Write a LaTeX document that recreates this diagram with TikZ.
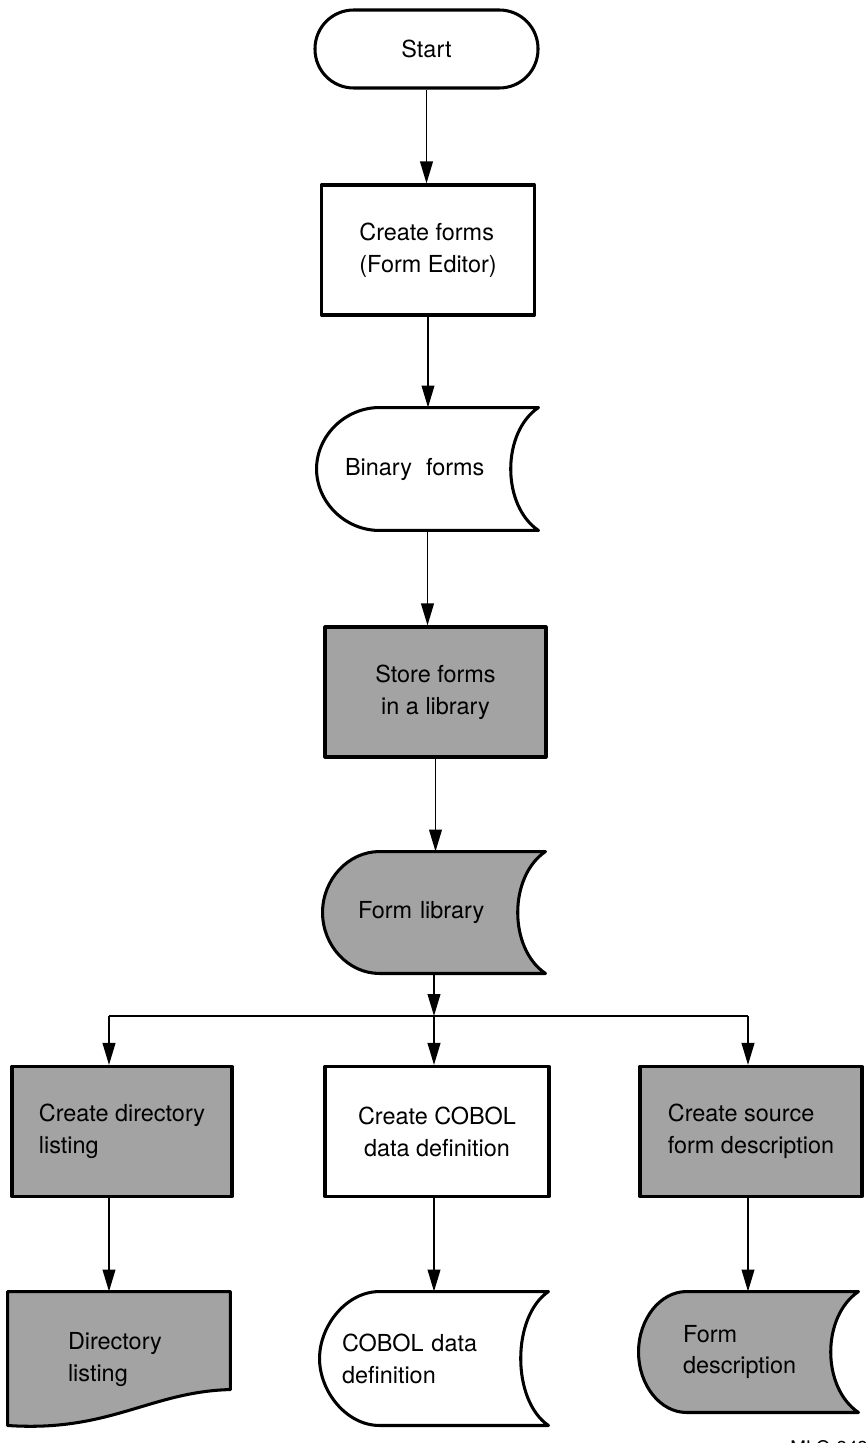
\documentclass[tikz,border=0pt]{standalone}
\usepackage{fontspec}
\setmainfont{TeX Gyre Heros}
\usetikzlibrary{arrows.meta,positioning,calc}
\pgfdeclarelayer{bg}
\pgfsetlayers{bg,main}
\definecolor{screen}{gray}{0.64}
\newcommand{\pxu}{0.015cm}
\tikzstyle{outl} = [line width=1.3pt,line join=round]
\tikzstyle{flow} = [line width=0.8pt,-{Triangle[length=0.33cm,width=0.19cm]}]
\tikzstyle{proc} = [draw,outl,inner sep=0pt,minimum height=130*\pxu]
\tikzstyle{shaded} = [fill=screen]
\tikzstyle{media} = [inner ysep=0pt,align=left]

% stored data outline round a node: name, fill, width of the round end
\newcommand{\storage}[3]{%
  \draw[outl,fill=#2] ($(#1.north west)+(#3,0)$) -- (#1.north east)
    .. controls ($(#1.north east)+(-37,25)$) and ($(#1.south east)+(-37,-25)$) .. (#1.south east)
    -- ($(#1.south west)+(#3,0)$)
    .. controls ($(#1.south west)+(0.45*#3,0)$) and ($(#1.west)+(0,33)$) .. (#1.west)
    .. controls ($(#1.west)+(0,-33)$) and ($(#1.north west)+(0.45*#3,0)$) .. cycle;}
% printed document outline round a node
\newcommand{\docsheet}[2]{%
  \draw[outl,fill=#2] (#1.north west) -- (#1.north east) -- ($(#1.north east)+(0,98)$)
    .. controls ($(#1.north east)+(-80,100)$) and ($(#1.south west)+(102,5)$)
    .. ($(#1.south west)+(0,-2)$) -- cycle;}

\begin{document}
\begin{tikzpicture}[x=\pxu,y=-\pxu,font=\fontsize{10}{13.6}\selectfont]
\useasboundingbox (0,0) rectangle (866,1443);

% main column
\node[draw,outl,rounded corners=0.58cm,minimum width=223*\pxu,minimum height=78*\pxu] (start) at (426.5,49) {Start};
\node[proc,align=left,minimum width=213*\pxu] (cform) at (428,250) {Create forms\\(Form Editor)};
\node[media,text width=165*\pxu,inner xsep=28*\pxu,minimum height=122*\pxu] (binf) at (427.5,469) {Binary\hspace{0.6em}forms};
\node[proc,shaded,align=center,minimum width=221*\pxu] (store) at (435.5,692) {Store forms\\in a library};
\node[media,text width=152*\pxu,inner xsep=35*\pxu,minimum height=121*\pxu] (flib) at (434,912.5) {Form library};

% three branches
\coordinate (jl) at (109,1016);
\coordinate (jm) at (434,1016);
\coordinate (jr) at (748,1016);
\node[proc,shaded,align=left,minimum width=220*\pxu] (cdir) at (122,1131.5) {Create directory\\listing};
\node[proc,align=center,minimum width=224*\pxu] (ccob) at (437,1131.5) {Create COBOL\\data definition};
\node[proc,shaded,align=left,minimum width=222*\pxu] (csrc) at (751,1131.5) {Create source\\form description};

% outputs
\node[media,text width=102*\pxu,inner xsep=60*\pxu,minimum height=135*\pxu] (dlist) at (119,1359.5) {Directory\\listing};
\node[media,text width=184*\pxu,inner xsep=22*\pxu,minimum height=133*\pxu] (cobd) at (434,1358.5) {COBOL data\\definition};
\node[media,text width=131*\pxu,inner xsep=44*\pxu,minimum height=120*\pxu] (fdesc) at (748.5,1352) {Form\\description};
\node[anchor=north west,inner sep=0pt,font=\fontsize{8}{9}\selectfont] (figno) at (790,1440) {MLO-343-85};

\begin{pgfonlayer}{bg}
  \storage{binf}{white}{63}
  \storage{flib}{screen}{57}
  \docsheet{dlist}{screen}
  \storage{cobd}{white}{60}
  \storage{fdesc}{screen}{48}
\end{pgfonlayer}

\draw[flow] (start.south) -- (start.south |- cform.north);
\draw[flow] (cform.south) -- (cform.south |- binf.north);
\draw[flow] (binf.south) -- (binf.south |- store.north);
\draw[flow] (store.south) -- (store.south |- flib.north);
\draw[flow] (flib.south) -- (jm);
\draw[line width=0.8pt] (jl) -- (jr);
\draw[flow] (jl) -- (jl |- cdir.north);
\draw[flow] (jm) -- (jm |- ccob.north);
\draw[flow] (jr) -- (jr |- csrc.north);
\draw[flow] (jl |- cdir.south) -- (jl |- dlist.north);
\draw[flow] (jm |- ccob.south) -- (jm |- cobd.north);
\draw[flow] (jr |- csrc.south) -- (jr |- fdesc.north);
\end{tikzpicture}
\end{document}
